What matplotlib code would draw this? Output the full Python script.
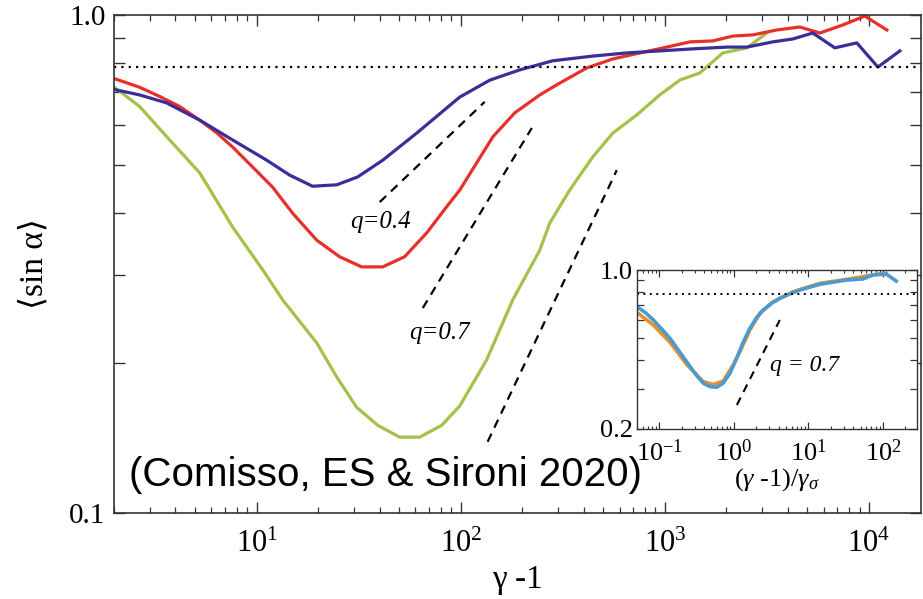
import numpy as np
import matplotlib
matplotlib.use("Agg")
import matplotlib.pyplot as plt
from matplotlib.ticker import FixedLocator, NullFormatter, LogLocator

plt.rcParams['mathtext.fontset'] = 'custom'
plt.rcParams['mathtext.rm'] = 'Liberation Serif'
plt.rcParams['mathtext.it'] = 'Liberation Serif:italic'
plt.rcParams['font.family'] = ['Liberation Serif', 'DejaVu Serif']

# main panel data
blue_x = [1.99, 2.67, 3.62, 5.26, 7.63, 11.2, 14.5, 18.8, 24.7, 31.3, 41.5, 60.8, 98.9, 139,
          195, 282, 444, 651, 1372, 2013, 2523, 3383, 4240, 5310, 6810, 8730, 11070, 14190]
blue_y = [0.709, 0.691, 0.666, 0.615, 0.561, 0.511, 0.477, 0.453, 0.456, 0.473, 0.511, 0.579,
          0.684, 0.740, 0.776, 0.809, 0.827, 0.839, 0.855, 0.862, 0.862, 0.883, 0.895, 0.920,
          0.859, 0.879, 0.786, 0.847]

red_x = [1.99, 2.67, 3.35, 4.19, 5.26, 6.37, 7.63, 9.56, 11.98, 15.0, 19.7, 25.5, 32.7, 41.5,
         53.1, 68.1, 85.3, 98.9, 143.6, 184, 244, 306, 415, 556, 754, 1023, 1327, 1719, 2155,
         2700, 3540, 4590, 5750, 7460, 9550, 12250]
red_y = [0.746, 0.716, 0.686, 0.655, 0.615, 0.580, 0.543, 0.495, 0.451, 0.400, 0.353, 0.327,
         0.312, 0.312, 0.327, 0.365, 0.412, 0.445, 0.569, 0.636, 0.691, 0.730, 0.783, 0.816,
         0.839, 0.862, 0.883, 0.887, 0.907, 0.912, 0.933, 0.946, 0.920, 0.955, 0.995, 0.933]

green_x = [1.99, 2.67, 3.62, 5.26, 7.63, 10.7, 13.4, 19.7, 24.7, 30.9, 39.2, 50.2, 63.0, 80.7,
           98.9, 134, 180, 244, 273, 342, 444, 556, 729, 945, 1185, 1485, 1925, 2523, 3162]
green_y = [0.718, 0.655, 0.570, 0.482, 0.375, 0.308, 0.268, 0.2195, 0.1875, 0.163, 0.150,
           0.142, 0.142, 0.150, 0.164, 0.203, 0.268, 0.337, 0.382, 0.445, 0.519, 0.579, 0.630,
           0.691, 0.740, 0.765, 0.839, 0.859, 0.920]

# power-law guide lines
q04_x = [40.1, 131]
q04_y = [0.421, 0.669]
q07_x = [65.2, 223]
q07_y = [0.258, 0.593]
q3_x = [135.5, 582]
q3_y = [0.139, 0.488]

# inset data
in_blue_x = [0.0498, 0.0644, 0.0832, 0.1076, 0.139, 0.1797, 0.2327, 0.3006, 0.388, 0.4775,
             0.5866, 0.719, 0.884, 1.087, 1.332, 1.637, 2.013, 2.467, 3.197, 4.129, 5.62, 7.65,
             14.17, 32.3, 53.8, 73.3, 110.6, 150.6]
in_blue_y = [0.689, 0.651, 0.602, 0.549, 0.500, 0.444, 0.394, 0.350, 0.317, 0.306, 0.304,
             0.317, 0.350, 0.408, 0.480, 0.553, 0.616, 0.666, 0.713, 0.750, 0.784, 0.816,
             0.865, 0.903, 0.913, 0.951, 0.960, 0.894]
in_orange_x = [0.0498, 0.0832, 0.139, 0.2327, 0.388, 0.528, 0.719, 0.980, 1.203, 1.637, 2.23,
               3.36, 6.22, 14.17, 39.5, 81.3, 110.6]
in_orange_y = [0.651, 0.572, 0.480, 0.384, 0.322, 0.313, 0.324, 0.381, 0.436, 0.544, 0.644,
               0.725, 0.802, 0.873, 0.919, 0.957, 0.967]
in_q_x = [1.097, 4.13]
in_q_y = [0.254, 0.602]

iso = np.pi / 4

fig = plt.figure(figsize=(9.23, 5.99), dpi=100)
ax = fig.add_axes([0.1235, 0.1436, 0.8743, 0.8314])

ax.plot(green_x, green_y, color='#a3c24a', lw=2.3)
ax.plot(red_x, red_y, color='#e8302a', lw=2.3)
ax.plot(blue_x, blue_y, color='#3a2f98', lw=2.3)
ax.axhline(iso, color='black', lw=1.6, linestyle=(0, (1, 2.3)))
for xs, ys in [(q04_x, q04_y), (q07_x, q07_y), (q3_x, q3_y)]:
    ax.plot(xs, ys, color='black', lw=1.6, linestyle=(0, (4, 3)))

ax.text(40.6, 0.384, 'q=0.4', fontsize=18, ha='center', va='center', style='italic')
ax.text(78.9, 0.230, 'q=0.7', fontsize=18, ha='center', va='center', style='italic')
ax.text(2.38, 0.119, '(Comisso, ES & Sironi 2020)', fontsize=29, family='Liberation Sans',
        ha='left', va='center')

ax.set_xscale('log')
ax.set_yscale('log')
ax.set_xlim(2, 1.8e4)
ax.set_ylim(0.1, 1.0)
ax.yaxis.set_major_locator(FixedLocator([0.1, 1.0]))
ax.set_yticklabels(['0.1', '1.0'])
ax.yaxis.set_minor_locator(FixedLocator([0.2, 0.3, 0.4, 0.5, 0.6, 0.7, 0.8, 0.9]))
ax.yaxis.set_minor_formatter(NullFormatter())
ax.xaxis.set_major_locator(LogLocator(base=10, numticks=10))
ax.xaxis.set_minor_locator(LogLocator(base=10, subs=np.arange(2, 10), numticks=20))
ax.xaxis.set_minor_formatter(NullFormatter())
ax.tick_params(which='both', direction='in', top=True, right=True, color='#333333')
ax.tick_params(axis='x', which='major', length=8, width=1.0, labelsize=22, pad=12)
ax.tick_params(axis='x', which='minor', length=4, width=0.9)
ax.tick_params(axis='y', which='both', length=8, width=1.0, labelsize=21, pad=6)
for s in ax.spines.values():
    s.set_linewidth(1.2)
    s.set_color('#333333')
ax.set_xlabel('γ -1', fontsize=24, labelpad=4)
ax.set_ylabel('⟨sin α⟩', fontsize=24, labelpad=14)

# inset
axi = fig.add_axes([0.690, 0.2846, 0.3034, 0.2646])
axi.plot(in_orange_x, in_orange_y, color='#e8902a', lw=2.6)
axi.plot(in_blue_x, in_blue_y, color='#4a9bd0', lw=2.6)
axi.axhline(iso, color='black', lw=1.4, linestyle=(0, (1, 2.3)))
axi.plot(in_q_x, in_q_y, color='black', lw=1.5, linestyle=(0, (4, 3)))
axi.text(8.92, 0.381, 'q = 0.7', fontsize=17, ha='center', va='center', style='italic')
axi.set_xscale('log')
axi.set_yscale('log')
axi.set_xlim(0.05, 285)
axi.set_ylim(0.2, 1.0)
axi.yaxis.set_major_locator(FixedLocator([0.2, 1.0]))
axi.set_yticklabels(['0.2', '1.0'])
axi.yaxis.set_minor_locator(FixedLocator([0.3, 0.4, 0.5, 0.6, 0.7, 0.8, 0.9]))
axi.yaxis.set_minor_formatter(NullFormatter())
axi.xaxis.set_major_locator(LogLocator(base=10, numticks=10))
axi.xaxis.set_minor_locator(LogLocator(base=10, subs=np.arange(2, 10), numticks=20))
axi.xaxis.set_minor_formatter(NullFormatter())
axi.tick_params(which='both', direction='in', top=True, right=True, color='#333333')
axi.tick_params(axis='x', which='major', length=5, width=0.9, labelsize=19, pad=8)
axi.tick_params(axis='x', which='minor', length=2.5, width=0.8)
axi.tick_params(axis='y', which='both', length=5, width=0.9, labelsize=19, pad=3)
for s in axi.spines.values():
    s.set_linewidth(1.0)
    s.set_color('#333333')
axi.set_xlabel(r'($\gamma$ -1)/$\gamma_\sigma$', fontsize=19, labelpad=0)

fig.savefig('out.png', dpi=100)
